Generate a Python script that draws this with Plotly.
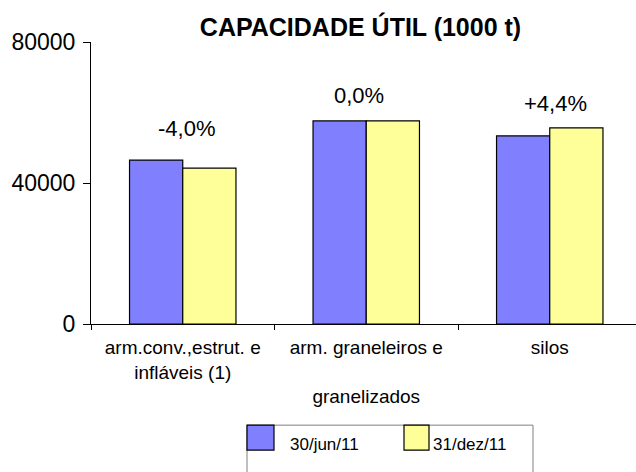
import plotly.graph_objects as go

categories = ["arm.conv.,estrut. e<br>infláveis (1)", "arm. graneleiros e<br><br>granelizados", "silos"]
series_names = ["30/jun/11", "31/dez/11"]
values_jun = [46500, 57600, 53350]
values_dez = [44200, 57600, 55650]
change_labels = ["-4,0%", "0,0%", "+4,4%"]
y_ticks = [0, 40000, 80000]

W, H = 636, 472
L, T = 91, 41.5
PW = W - L
PH = 283.0
B = H - T - PH

blue = "#8080FF"
yellow = "#FFFF99"
font_family = "Liberation Sans, Arial, sans-serif"

fig = go.Figure()
fig.add_trace(go.Bar(x=categories, y=values_jun, name=series_names[0],
                     marker=dict(color=blue, line=dict(color="black", width=1.2))))
fig.add_trace(go.Bar(x=categories, y=values_dez, name=series_names[1],
                     marker=dict(color=yellow, line=dict(color="black", width=1.2))))

# percentage labels
label_y = [55400, 64700, 62500]
label_xshift = [4, -7, 6]
for i, (txt, yy, xs) in enumerate(zip(change_labels, label_y, label_xshift)):
    fig.add_annotation(x=i, y=yy, xref="x", yref="y", text=txt, showarrow=False,
                       xshift=xs, font=dict(size=22, color="black", family=font_family),
                       xanchor="center", yanchor="middle")

def px_x(p):
    return (p - L) / PW

def px_y(p):
    return (T + PH - p) / PH

# legend drawn manually
fig.add_shape(type="rect", xref="paper", yref="paper",
              x0=px_x(247), x1=px_x(533), y0=px_y(490), y1=px_y(426),
              line=dict(color="#808080", width=1), fillcolor="rgba(0,0,0,0)")
for (x0, x1), col, name, tx in [((247, 274), blue, series_names[0], 288),
                                 ((404, 429), yellow, series_names[1], 431)]:
    fig.add_shape(type="rect", xref="paper", yref="paper",
                  x0=px_x(x0), x1=px_x(x1), y0=px_y(451), y1=px_y(426),
                  line=dict(color="black", width=1.2), fillcolor=col)
    fig.add_annotation(x=px_x(tx), y=px_y(445), xref="paper", yref="paper",
                       text=name, showarrow=False, xanchor="left", yanchor="middle",
                       font=dict(size=17, color="black", family=font_family))

fig.update_layout(
    width=W, height=H,
    margin=dict(l=L, r=0, t=T, b=B, pad=0),
    paper_bgcolor="white", plot_bgcolor="white",
    barmode="group", bargap=0.42, bargroupgap=0,
    showlegend=False,
    font=dict(family=font_family, color="black"),
    title=dict(text="<b>CAPACIDADE ÚTIL (1000 t)</b>", x=360.5 / W, xref="container",
               xanchor="center", y=1 - 27.7 / H, yref="container", yanchor="middle",
               font=dict(size=25, color="black", family=font_family)),
    xaxis=dict(type="category", range=[-0.5, -0.5 + PW / 183.5],
               showline=True, linecolor="black", linewidth=1,
               ticks="outside", tickson="boundaries", ticklen=5, tickcolor="black",
               showgrid=False, zeroline=False, ticklabelstandoff=6,
               tickfont=dict(size=19, color="black", family=font_family)),
    yaxis=dict(range=[0, 80000], tickvals=y_ticks, ticktext=[str(v) for v in y_ticks],
               showline=True, linecolor="black", linewidth=1,
               ticks="outside", ticklen=7, tickcolor="black",
               showgrid=False, zeroline=False, ticklabelstandoff=3,
               tickfont=dict(size=23, color="black", family=font_family)),
)

fig.write_html("out.html", config={"displayModeBar": False},
               post_script="document.body.style.margin='0';document.body.style.padding='0';document.body.style.overflow='hidden';")
